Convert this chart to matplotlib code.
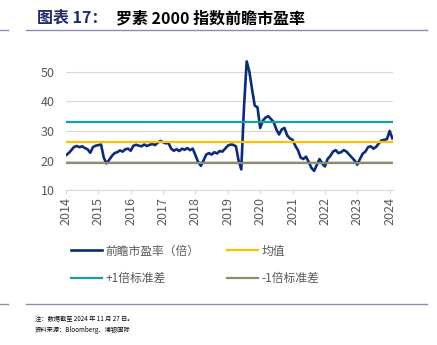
import matplotlib
matplotlib.use('Agg')
import matplotlib.pyplot as plt
import numpy as np

plt.rcParams['font.family'] = ['Noto Sans CJK SC', 'DejaVu Sans']

# monthly forward P/E, Jan 2014 onward
pe = [
    21.8, 22.5, 23.5, 24.6, 24.9, 24.5, 24.8, 24.2, 23.8, 22.6, 24.5, 25.0,   # 2014
    25.2, 25.4, 21.0, 19.0, 20.2, 21.5, 22.5, 22.8, 23.4, 23.0, 23.8, 24.0,   # 2015
    23.3, 25.0, 25.3, 25.0, 24.8, 25.4, 24.9, 25.3, 25.6, 25.2, 26.0, 26.6,   # 2016
    26.2, 25.8, 25.9, 24.0, 23.3, 23.8, 23.2, 24.0, 23.6, 24.2, 23.5, 24.0,   # 2017
    21.8, 19.5, 18.2, 20.0, 22.0, 22.5, 22.0, 22.8, 22.4, 23.2, 23.0, 24.0,   # 2018
    25.0, 25.4, 25.3, 24.8, 20.0, 17.0, 38.0, 53.5, 50.0, 44.0, 38.5, 38.0,   # 2019
    31.0, 33.5, 34.5, 35.0, 34.0, 33.0, 30.5, 28.8, 30.5, 31.0, 28.5, 27.5,   # 2020
    27.0, 25.0, 23.5, 21.0, 20.5, 21.3, 19.5, 17.5, 16.5, 18.5, 20.5, 19.0,   # 2021
    18.0, 20.5, 21.5, 23.0, 23.5, 22.5, 22.8, 23.5, 23.0, 22.0, 21.0, 20.0,   # 2022
    18.6, 20.5, 22.3, 23.0, 24.5, 24.8, 24.0, 24.6, 25.8, 26.8, 27.0, 27.2,   # 2023
    30.0, 27.5,                                                               # 2024
]
mean_pe = 26.2
plus_1sd = 33.1
minus_1sd = 19.3
years = list(range(2014, 2025))

x = 2014 + np.arange(len(pe)) / 12.0

fig = plt.figure(figsize=(4.37, 3.45), dpi=100)
ax = fig.add_axes([0.151, 0.449, 0.748, 0.386])

navy = '#0B2C7A'
gold = '#FFC000'
teal = '#12A3A0'
olive = '#8E8C6A'
grey = '#595959'

l_pe, = ax.plot(x, pe, color=navy, lw=1.9, zorder=3)
l_mean = ax.axhline(mean_pe, color=gold, lw=1.6, zorder=4)
l_up = ax.axhline(plus_1sd, color=teal, lw=1.6, zorder=4)
l_dn = ax.axhline(minus_1sd, color=olive, lw=1.6, zorder=4)

ax.set_xlim(2014, 2024.1)
ax.set_ylim(10, 55)
ax.set_yticks([10, 20, 30, 40, 50])
ax.set_xticks(years)
ax.set_xticklabels([str(y) for y in years], rotation=90)
ax.grid(axis='y', color='#D9D9D9', lw=0.8)
ax.set_axisbelow(True)
for s in ['top', 'right', 'left']:
    ax.spines[s].set_visible(False)
ax.spines['bottom'].set_color('#D9D9D9')
ax.tick_params(axis='y', length=0, labelsize=9, colors=grey, pad=8)
ax.tick_params(axis='x', length=3, color='#D9D9D9', labelsize=9, labelcolor=grey, pad=2)

# legend fills column-wise, so order handles to read row by row
leg = fig.legend([l_pe, l_up, l_mean, l_dn],
                 ['前瞻市盈率（倍）', '+1倍标准差', '均值', '-1倍标准差'],
                 loc='upper left', bbox_to_anchor=(0.138, 0.322), ncol=2, frameon=False,
                 fontsize=8.5, handlelength=2.6, handletextpad=0.35, columnspacing=2.3,
                 labelspacing=1.25)
for t in leg.get_texts():
    t.set_color(grey)

# title
fig.text(37 / 437, 1 - 18 / 345, '图表 17：', fontsize=11.5, fontweight='bold', color='#1F2A6B', va='center')
fig.text(116 / 437, 1 - 18 / 345, '罗素 2000 指数前瞻市盈率', fontsize=11.5, fontweight='bold', color='black', va='center')

# separator lines
for yy in [1 - 30 / 345, 1 - 304 / 345]:
    fig.add_artist(plt.Line2D([0, 8 / 437], [yy, yy], color='#8A8AB8', lw=1.0))
    fig.add_artist(plt.Line2D([26 / 437, 427 / 437], [yy, yy], color='#8A8AB8', lw=1.0))

fig.text(35 / 437, 1 - 319 / 345, '注：数据截至 2024 年 11 月 27 日。', fontsize=4.5, color='black', va='center')
fig.text(35 / 437, 1 - 330 / 345, '资料来源：Bloomberg、浦银国际', fontsize=4.5, color='black', va='center')

fig.savefig('out.png', dpi=100)
